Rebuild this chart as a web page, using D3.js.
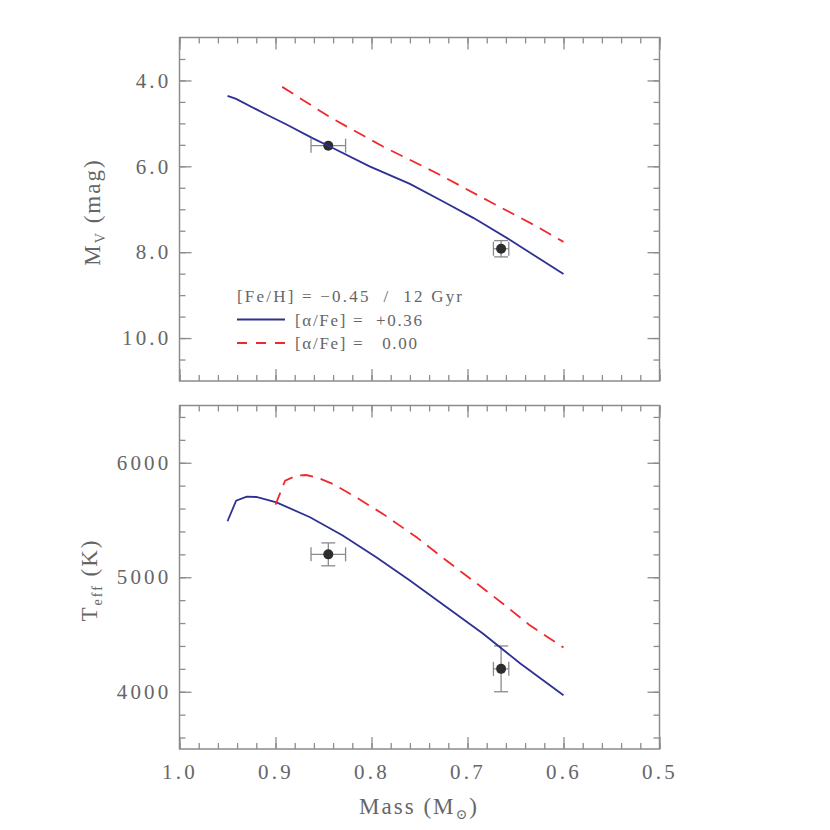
<!DOCTYPE html>
<html><head><meta charset="utf-8">
<script src="https://cdn.jsdelivr.net/npm/d3@7"></script>
<style>
html,body{margin:0;padding:0;background:#fff;}
svg text{font-family:"Liberation Serif","DejaVu Serif",serif;fill:#666;}
</style></head>
<body>
<svg id="chart" width="830" height="830"></svg>
<script>
// ---- data ----
const massTicks = [1.0, 0.9, 0.8, 0.7, 0.6, 0.5];
const mvTicks = [4, 6, 8, 10];
const teffTicks = [4000, 5000, 6000];

const massBlueTop = [0.950, 0.941, 0.909, 0.889, 0.861, 0.845, 0.802, 0.760, 0.722, 0.694, 0.656, 0.600];
const mvBlue      = [4.36, 4.43, 4.80, 5.02, 5.35, 5.52, 6.00, 6.41, 6.86, 7.20, 7.71, 8.51];
const massRedTop  = [0.893, 0.843, 0.788, 0.732, 0.677, 0.628, 0.600];
const mvRed       = [4.15, 4.86, 5.54, 6.16, 6.82, 7.40, 7.76];

const massBlueBot = [0.950, 0.941, 0.930, 0.920, 0.899, 0.864, 0.830, 0.795, 0.760, 0.722, 0.684, 0.645, 0.600];
const teffBlue    = [5489, 5669, 5704, 5701, 5654, 5524, 5364, 5175, 4972, 4740, 4508, 4247, 3970];
const massRedBot  = [0.900, 0.890, 0.878, 0.868, 0.857, 0.840, 0.816, 0.788, 0.753, 0.722, 0.690, 0.663, 0.635, 0.600];
const teffRed     = [5634, 5843, 5889, 5893, 5872, 5814, 5698, 5553, 5349, 5146, 4943, 4769, 4580, 4386];

const starMass     = [0.845, 0.665];
const starMassErr  = [0.018, 0.008];
const starMv       = [5.52, 7.92];
const starMvErr    = [0, 0.19];
const starTeff     = [5200, 4200];
const starTeffErr  = [100, 200];

const legendTitle = "[Fe/H] = \u22120.45  /  12 Gyr";
const legendLabels = ["[\u03b1/Fe] =  +0.36", "[\u03b1/Fe] =   0.00"];

// ---- layout ----
const svg = d3.select("#chart");
const X0 = 179.5, X1 = 659.5;
const frameCol = "#8c8c8c";
const blue = "#2e3192", red = "#ee2a2e";

const x = d3.scaleLinear().domain([1.0, 0.5]).range([X0, X1]);
const yTop = d3.scaleLinear().domain([3, 11]).range([37.5, 381]);
const yBot = d3.scaleLinear().domain([3500, 6500]).range([749, 405.5]);

const minorMass = d3.range(0, 26).map(i => +(1.0 - i * 0.02).toFixed(2));

function frame(y, yMinor, yMajor, fmt, showX) {
  const yt = Math.min(...y.range()), yb = Math.max(...y.range());
  const g = svg.append("g");
  const styleAxis = sel => {
    sel.selectAll(".domain").remove();
    sel.selectAll(".tick line").attr("stroke", frameCol).attr("stroke-width", 1.3);
    sel.selectAll(".tick text").attr("font-size", 21).attr("letter-spacing", 3.2)
      .attr("font-family", '"Liberation Serif","DejaVu Serif",serif').attr("fill", "#666");
  };
  g.append("g").attr("transform", `translate(0,${yb})`)
    .call(d3.axisBottom(x).tickValues(minorMass).tickSize(-6).tickFormat("")).call(styleAxis);
  g.append("g").attr("transform", `translate(0,${yb})`)
    .call(d3.axisBottom(x).tickValues(massTicks).tickSize(-12).tickPadding(15)
      .tickFormat(showX ? d3.format(".1f") : "")).call(styleAxis);
  g.append("g").attr("transform", `translate(0,${yt})`)
    .call(d3.axisTop(x).tickValues(minorMass).tickSize(-6).tickFormat("")).call(styleAxis);
  g.append("g").attr("transform", `translate(0,${yt})`)
    .call(d3.axisTop(x).tickValues(massTicks).tickSize(-12).tickFormat("")).call(styleAxis);
  g.append("g").attr("transform", `translate(${X0},0)`)
    .call(d3.axisLeft(y).tickValues(yMinor).tickSize(-6).tickFormat("")).call(styleAxis);
  g.append("g").attr("transform", `translate(${X0},0)`)
    .call(d3.axisLeft(y).tickValues(yMajor).tickSize(-12).tickPadding(8).tickFormat(fmt)).call(styleAxis);
  g.append("g").attr("transform", `translate(${X1},0)`)
    .call(d3.axisRight(y).tickValues(yMinor).tickSize(-6).tickFormat("")).call(styleAxis);
  g.append("g").attr("transform", `translate(${X1},0)`)
    .call(d3.axisRight(y).tickValues(yMajor).tickSize(-12).tickFormat("")).call(styleAxis);
  g.append("rect").attr("x", X0).attr("y", yt).attr("width", X1 - X0).attr("height", yb - yt)
    .attr("fill", "none").attr("stroke", frameCol).attr("stroke-width", 1.5);
}

frame(yTop, d3.range(3.5, 11, 0.5), mvTicks, d3.format(".1f"), false);
frame(yBot, d3.range(3600, 6500, 200), teffTicks, d3.format("d"), true);

function stars(y, val, err) {
  const g = svg.append("g").attr("stroke", "#8a8a8a").attr("stroke-width", 1.3).attr("fill", "none");
  const cap = 7;
  starMass.forEach((m, i) => {
    const cx = x(m), cy = y(val[i]);
    const xa = x(m + starMassErr[i]), xb = x(m - starMassErr[i]);
    g.append("line").attr("x1", xa).attr("x2", xb).attr("y1", cy).attr("y2", cy);
    g.append("line").attr("x1", xa).attr("x2", xa).attr("y1", cy - cap).attr("y2", cy + cap);
    g.append("line").attr("x1", xb).attr("x2", xb).attr("y1", cy - cap).attr("y2", cy + cap);
    if (err[i] > 0) {
      const ya = y(val[i] + err[i]), yb = y(val[i] - err[i]);
      g.append("line").attr("x1", cx).attr("x2", cx).attr("y1", ya).attr("y2", yb);
      g.append("line").attr("x1", cx - cap).attr("x2", cx + cap).attr("y1", ya).attr("y2", ya);
      g.append("line").attr("x1", cx - cap).attr("x2", cx + cap).attr("y1", yb).attr("y2", yb);
    }
  });
  svg.append("g").selectAll("circle").data(starMass).join("circle")
    .attr("cx", d => x(d)).attr("cy", (d, i) => y(val[i])).attr("r", 5).attr("fill", "#2d2d2d");
}

stars(yTop, starMv, starMvErr);
stars(yBot, starTeff, starTeffErr);

function curve(y, ms, vs, col, dash) {
  const line = d3.line().x(d => x(d[0])).y(d => y(d[1]));
  svg.append("path").datum(ms.map((m, i) => [m, vs[i]])).attr("d", line)
    .attr("fill", "none").attr("stroke", col).attr("stroke-width", 1.8)
    .attr("stroke-dasharray", dash ? "13,8" : null);
}
curve(yTop, massBlueTop, mvBlue, blue, false);
curve(yTop, massRedTop, mvRed, red, true);
curve(yBot, massBlueBot, teffBlue, blue, false);
curve(yBot, massRedBot, teffRed, red, true);

// ---- legend ----
const lg = svg.append("g");
lg.append("text").attr("x", 237).attr("y", 302).attr("font-size", 17)
  .style("white-space", "pre").attr("textLength", 225).attr("lengthAdjust", "spacing").text(legendTitle);
[blue, red].forEach((c, i) => {
  const yy = 319.5 + i * 23.5;
  lg.append("line").attr("x1", 237).attr("x2", 285).attr("y1", yy).attr("y2", yy)
    .attr("stroke", c).attr("stroke-width", 1.8).attr("stroke-dasharray", i ? "10,9" : null);
  lg.append("text").attr("x", 295).attr("y", 325.5 + i * 23.5).attr("font-size", 17)
    .style("white-space", "pre").attr("textLength", i ? 122 : 127).attr("lengthAdjust", "spacing")
    .text(legendLabels[i]);
});

// ---- axis titles ----
const xt = svg.append("text").attr("x", 419).attr("y", 814).attr("text-anchor", "middle")
  .attr("font-size", 23).attr("letter-spacing", 2);
xt.append("tspan").text("Mass (M");
xt.append("tspan").attr("font-size", 14).attr("dy", 5).text("\u2299");
xt.append("tspan").attr("dy", -5).text(")");

const yt1 = svg.append("text").attr("transform", "translate(100,212) rotate(-90)")
  .attr("text-anchor", "middle").attr("font-size", 23).attr("letter-spacing", 2);
yt1.append("tspan").text("M");
yt1.append("tspan").attr("font-size", 14).attr("dy", 5).text("V");
yt1.append("tspan").attr("dy", -5).text(" (mag)");

const yt2 = svg.append("text").attr("transform", "translate(97,580) rotate(-90)")
  .attr("text-anchor", "middle").attr("font-size", 23).attr("letter-spacing", 2);
yt2.append("tspan").text("T");
yt2.append("tspan").attr("font-size", 14).attr("dy", 5).text("eff");
yt2.append("tspan").attr("dy", -5).text(" (K)");
</script>
</body></html>
